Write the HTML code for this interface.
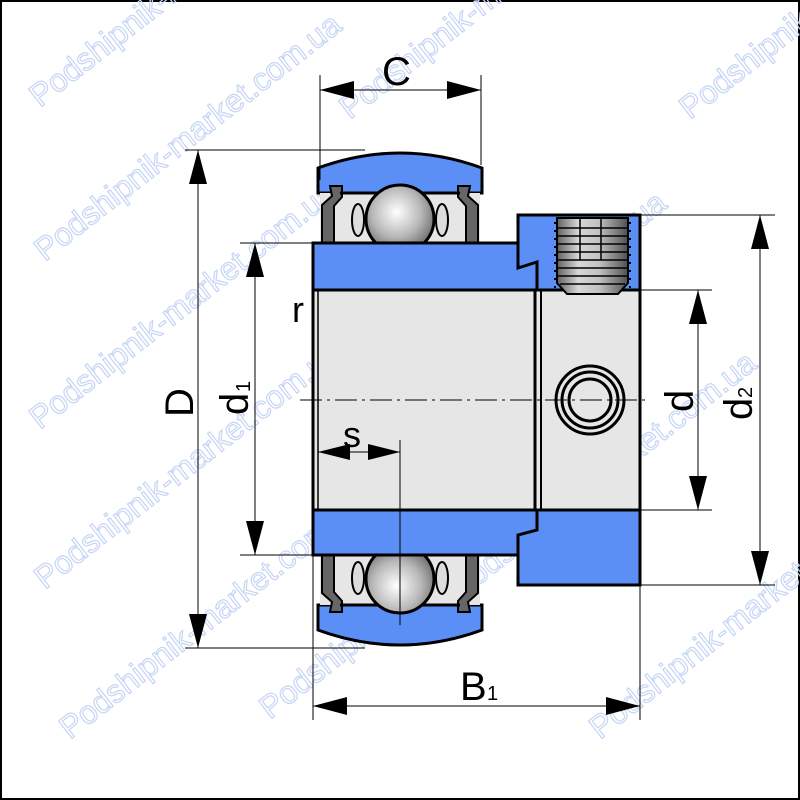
<!DOCTYPE html>
<html><head><meta charset="utf-8"><style>
html,body{margin:0;padding:0;background:#fff}
svg{display:block}
text{font-family:"Liberation Sans",sans-serif}
</style></head><body>
<svg width="800" height="800" viewBox="0 0 800 800" xmlns="http://www.w3.org/2000/svg">
<defs>
<radialGradient id="ball" cx="0.45" cy="0.4" r="0.6">
<stop offset="0" stop-color="#ffffff"/><stop offset="0.6" stop-color="#b8b8b8"/><stop offset="1" stop-color="#707070"/>
</radialGradient>
<linearGradient id="scr" x1="0" x2="1" y1="0" y2="0">
<stop offset="0" stop-color="#606060"/><stop offset="0.3" stop-color="#d8d8d8"/><stop offset="0.6" stop-color="#c0c0c0"/><stop offset="1" stop-color="#505050"/>
</linearGradient>
<g id="brg">
<path d="M318,168 Q400,138 482,168 L482,193 L318,193 Z" fill="#5b8ff5" stroke="#000" stroke-width="3"/>
<rect x="320" y="193" width="160" height="50" fill="#e6e6e6"/>
<path d="M322,243 L322,205 L332,196 L330,186 L342,186 L342,197 L334,206 L334,243" fill="#666" stroke="#000" stroke-width="2"/>
<path d="M478,243 L478,205 L468,196 L470,186 L458,186 L458,197 L466,206 L466,243" fill="#666" stroke="#000" stroke-width="2"/>
<line x1="340" y1="193" x2="460" y2="193" stroke="#000" stroke-width="3"/>
<ellipse cx="358" cy="220" rx="6" ry="16" fill="#ddd" stroke="#000" stroke-width="2"/>
<ellipse cx="442" cy="220" rx="6" ry="16" fill="#ddd" stroke="#000" stroke-width="2"/>
<circle cx="400" cy="219" r="34" fill="url(#ball)" stroke="#000" stroke-width="3"/>
</g>
</defs>
<rect x="1" y="1" width="798" height="798" fill="#fff" stroke="#000" stroke-width="2"/>

<g fill="none" stroke="#c6d5f5" stroke-width="1.2" font-size="32">
<text transform="translate(40,108) rotate(-38)">Podshipnik-market.com.ua</text>
<text transform="translate(45,262) rotate(-38)">Podshipnik-market.com.ua</text>
<text transform="translate(40,430) rotate(-38)">Podshipnik-market.com.ua</text>
<text transform="translate(45,590) rotate(-38)">Podshipnik-market.com.ua</text>
<text transform="translate(70,740) rotate(-38)">Podshipnik-market.com.ua</text>
<text transform="translate(350,120) rotate(-38)">Podshipnik-market.com.ua</text>
<text transform="translate(370,440) rotate(-38)">Podshipnik-market.com.ua</text>
<text transform="translate(270,720) rotate(-38)">Podshipnik-market.com.ua</text>
<text transform="translate(600,740) rotate(-38)">Podshipnik-market.com.ua</text>
<text transform="translate(690,120) rotate(-38)">Podshipnik-market.com.ua</text>
<text transform="translate(460,600) rotate(-38)">Podshipnik-market.com.ua</text>
</g>

<rect x="313" y="290" width="327" height="220" fill="#e6e6e6" stroke="#000" stroke-width="3"/>
<line x1="535" y1="290" x2="535" y2="510" stroke="#000" stroke-width="3"/>
<line x1="541" y1="290" x2="541" y2="510" stroke="#000" stroke-width="2"/>
<line x1="318" y1="290" x2="318" y2="510" stroke="#000" stroke-width="1.5"/>

<use href="#brg"/>
<use href="#brg" transform="translate(0,798) scale(1,-1)"/>

<path d="M313,243 L518,243 L518,215 L640,215 L640,290 L313,290 Z" fill="#5b8ff5" stroke="#000" stroke-width="3"/>
<polyline points="518,243 518,268 537,262 537,290" fill="none" stroke="#000" stroke-width="3"/>
<path d="M313,510 L640,510 L640,585 L518,585 L518,555 L313,555 Z" fill="#5b8ff5" stroke="#000" stroke-width="3"/>
<polyline points="537,510 537,530 518,535 518,555" fill="none" stroke="#000" stroke-width="3"/>

<path d="M557,218 L628,218 L628,283 L618,294 L567,294 L557,283 Z" fill="url(#scr)" stroke="#000" stroke-width="2"/>
<g stroke="#000" stroke-width="1.5">
<line x1="557" y1="228" x2="628" y2="228"/><line x1="557" y1="236" x2="628" y2="236"/>
<line x1="557" y1="244" x2="628" y2="244"/><line x1="557" y1="252" x2="628" y2="252"/>
<line x1="557" y1="260" x2="628" y2="260"/><line x1="557" y1="268" x2="628" y2="268"/>
<line x1="557" y1="276" x2="628" y2="276"/><line x1="560" y1="284" x2="625" y2="284"/>
<line x1="580" y1="218" x2="580" y2="260"/><line x1="601" y1="218" x2="601" y2="260"/>
</g>
<g fill="none" stroke="#000" stroke-width="2" stroke-dasharray="2 6">
<line x1="555" y1="222" x2="555" y2="290"/><line x1="630" y1="222" x2="630" y2="290"/>
</g>

<g fill="none" stroke="#000" stroke-width="3">
<circle cx="590" cy="400" r="34"/><circle cx="590" cy="400" r="28"/><circle cx="590" cy="400" r="21"/>
</g>
<line x1="300" y1="400" x2="648" y2="400" stroke="#000" stroke-width="1" stroke-dasharray="22 5 3 5"/>
<line x1="400" y1="440" x2="400" y2="625" stroke="#000" stroke-width="1"/>

<g stroke="#000" stroke-width="1">
<line x1="320" y1="75" x2="320" y2="180"/><line x1="481" y1="75" x2="481" y2="165"/>
<line x1="320" y1="90" x2="481" y2="90"/>
<line x1="185" y1="150" x2="365" y2="150"/><line x1="185" y1="648" x2="365" y2="648"/>
<line x1="198" y1="150" x2="198" y2="648"/>
<line x1="240" y1="243" x2="313" y2="243"/><line x1="240" y1="555" x2="313" y2="555"/>
<line x1="255" y1="243" x2="255" y2="555"/>
<line x1="640" y1="215" x2="775" y2="215"/><line x1="640" y1="585" x2="775" y2="585"/>
<line x1="760" y1="215" x2="760" y2="585"/>
<line x1="640" y1="290" x2="712" y2="290"/><line x1="640" y1="510" x2="712" y2="510"/>
<line x1="698" y1="290" x2="698" y2="510"/>
<line x1="313" y1="510" x2="313" y2="720"/><line x1="640" y1="585" x2="640" y2="720"/>
<line x1="313" y1="706" x2="640" y2="706"/>
<line x1="318" y1="452" x2="400" y2="452"/>
</g>
<g fill="#000">
<polygon points="320,90 354,81 354,99"/><polygon points="481,90 447,81 447,99"/>
<polygon points="198,150 189,184 207,184"/><polygon points="198,648 189,614 207,614"/>
<polygon points="255,243 246,277 264,277"/><polygon points="255,555 246,521 264,521"/>
<polygon points="760,215 751,249 769,249"/><polygon points="760,585 751,551 769,551"/>
<polygon points="698,290 689,324 707,324"/><polygon points="698,510 689,476 707,476"/>
<polygon points="313,706 347,697 347,715"/><polygon points="640,706 606,697 606,715"/>
<polygon points="318,452 350,444 350,460"/><polygon points="400,452 368,444 368,460"/>
</g>

<g fill="#000" font-size="40">
<text x="382" y="85">C</text>
<text x="460" y="700">B</text>
<text x="487" y="700" font-size="20">1</text>
<text x="292" y="322" font-size="36">r</text>
<text x="343" y="447" font-size="36">s</text>
<text transform="translate(193,417) rotate(-90)">D</text>
<text transform="translate(248,415) rotate(-90)">d</text>
<text transform="translate(250,392) rotate(-90)" font-size="20">1</text>
<text transform="translate(693,412) rotate(-90)">d</text>
<text transform="translate(752,420) rotate(-90)">d</text>
<text transform="translate(752,398) rotate(-90)" font-size="20">2</text>
</g>
</svg>
</body></html>
